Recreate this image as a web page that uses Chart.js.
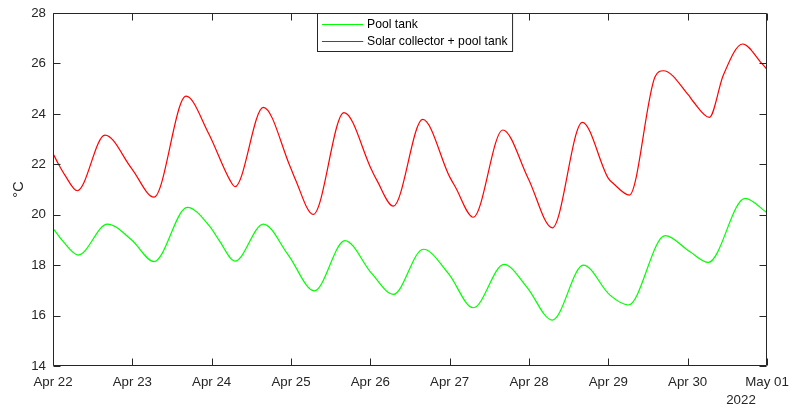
<!DOCTYPE html>
<html><head><meta charset="utf-8">
<script src="https://cdn.jsdelivr.net/npm/chart.js@4.4.0/dist/chart.umd.min.js"></script>
<style>html,body{margin:0;padding:0;background:#fff;}#wrap{width:790px;height:405px;position:relative;}</style>
</head><body><div id="wrap"><canvas id="c" width="790" height="405"></canvas></div>
<script>
// ---- data ----
const xTickLabels = ['Apr 22','Apr 23','Apr 24','Apr 25','Apr 26','Apr 27','Apr 28','Apr 29','Apr 30','May 01'];
const yearLabel = '2022';
const yAxisLabel = '°C';
const seriesNames = ['Pool tank', 'Solar collector + pool tank'];
// x = days since Apr 22 00:00
const poolDays  = [0,0.13,0.319,0.685,0.992,1.273,1.693,1.98,2.1,2.294,2.651,2.966,3.294,3.68,4.017,4.29,4.668,4.983,5.298,5.685,5.97,6.294,6.685,7.02,7.252,7.715,8.03,8.26,8.723,9.0];
const poolTemps = [19.46,18.93,18.40,19.63,19.0,18.14,20.29,19.52,18.95,18.16,19.63,18.40,16.98,18.97,17.67,16.84,18.63,17.67,16.31,18.03,17.14,15.82,18.0,16.81,16.42,19.17,18.53,18.11,20.65,20.08];
const solarDays  = [0,0.07,0.15,0.306,0.655,0.99,1.273,1.677,1.96,2.23,2.294,2.651,2.99,3.05,3.28,3.668,4.017,4.08,4.29,4.66,5.0,5.07,5.298,5.669,5.99,6.294,6.672,7.0,7.063,7.265,7.589,7.694,8.009,8.072,8.273,8.45,8.694,8.933,9.0];
const solarTemps = [22.43,22.0,21.57,20.95,23.16,21.84,20.70,24.70,23.23,21.37,21.11,24.26,21.9,21.44,20.01,24.05,21.77,21.38,20.34,23.78,21.5,21.11,19.9,23.36,21.44,19.48,23.66,21.44,21.24,20.78,25.47,25.71,24.75,24.48,23.86,25.54,26.77,26.0,25.77];
const seriesColors = ['#00ff00', '#ff0000'];

const FONT = '"Liberation Sans", Arial, Helvetica, sans-serif';
const TXT = '#262626';

const toPts = (xs, ys) => xs.map((v, i) => ({x: v, y: ys[i]}));

const framePlugin = {
  id: 'frame',
  afterDraw(chart) {
    const {ctx, chartArea: a, scales: {x, y}} = chart;
    ctx.save();
    ctx.strokeStyle = TXT; ctx.lineWidth = 1;
    const L = Math.round(a.left) + 0.5, R = Math.round(a.right) - 0.5;
    const T = Math.round(a.top) + 0.5, B = Math.round(a.bottom) - 0.5;
    ctx.beginPath();
    ctx.rect(L, T, R - L, B - T);
    const tl = 7;
    x.ticks.forEach(t => {
      const p = Math.round(x.getPixelForValue(t.value)) + 0.5;
      ctx.moveTo(p, B); ctx.lineTo(p, B - tl);
      ctx.moveTo(p, T); ctx.lineTo(p, T + tl);
    });
    y.ticks.forEach(t => {
      const p = Math.round(y.getPixelForValue(t.value)) + 0.5;
      ctx.moveTo(L, p); ctx.lineTo(L + tl, p);
      ctx.moveTo(R, p); ctx.lineTo(R - tl, p);
    });
    ctx.stroke();

    // legend (north, inside axes)
    ctx.font = '12.2px ' + FONT;
    const lineLen = 41, padL = 4.5, gap = 4, padR = 5;
    const tw = Math.max(...chart.data.datasets.map(d => ctx.measureText(d.label).width));
    const bw = padL + lineLen + gap + tw + padR, bh = 38;
    const bx = Math.round((a.left + a.right) / 2 + 5 - bw / 2) + 0.5;
    const by = T;
    ctx.fillStyle = '#fff';
    ctx.fillRect(bx, by, bw, bh);
    ctx.strokeStyle = TXT; ctx.lineWidth = 1;
    ctx.strokeRect(bx, by, bw, bh);
    chart.data.datasets.forEach((d, i) => {
      const cy = by + 11 + i * 17;
      ctx.strokeStyle = d.borderColor; ctx.lineWidth = 1.2;
      ctx.beginPath(); ctx.moveTo(bx + padL, cy); ctx.lineTo(bx + padL + lineLen, cy); ctx.stroke();
      ctx.fillStyle = '#000'; ctx.textAlign = 'left'; ctx.textBaseline = 'middle';
      ctx.fillText(d.label, bx + padL + lineLen + gap, cy + 0.5);
    });

    // year label under last x tick
    ctx.font = '13.3px ' + FONT;
    ctx.fillStyle = TXT; ctx.textAlign = 'center'; ctx.textBaseline = 'alphabetic';
    ctx.fillText(yearLabel, x.getPixelForValue(9) - 26, 404);
    ctx.restore();
  }
};

new Chart(document.getElementById('c'), {
  type: 'line',
  data: {
    datasets: [
      {label: seriesNames[0], data: toPts(poolDays, poolTemps), borderColor: seriesColors[0], borderWidth: 1.2, pointRadius: 0, cubicInterpolationMode: 'monotone', fill: false},
      {label: seriesNames[1], data: toPts(solarDays, solarTemps), borderColor: seriesColors[1], borderWidth: 1.2, pointRadius: 0, cubicInterpolationMode: 'monotone', fill: false}
    ]
  },
  options: {
    responsive: false, animation: false, devicePixelRatio: 1,
    layout: {padding: {top: 13, right: 23, left: 0, bottom: 0}},
    plugins: {legend: {display: false}, tooltip: {enabled: false}},
    scales: {
      x: {
        type: 'linear', min: 0, max: 9,
        grid: {display: false, drawTicks: true, tickLength: 8}, border: {display: false},
        ticks: {stepSize: 1, autoSkip: false, maxRotation: 0, padding: 0, color: TXT,
                font: {family: FONT, size: 13.3},
                callback: v => xTickLabels[Math.round(v)]},
        afterFit(s) { s.height = 39; }
      },
      y: {
        min: 14, max: 28,
        grid: {display: false, drawTicks: true, tickLength: 2}, border: {display: false},
        ticks: {stepSize: 2, padding: 5, color: TXT, font: {family: FONT, size: 13.3}},
        title: {display: true, text: yAxisLabel, color: TXT, font: {family: FONT, size: 14.5}, padding: {top: 10, bottom: 0}},
        afterFit(s) { s.width = 53; }
      }
    }
  },
  plugins: [framePlugin]
});
</script></body></html>
